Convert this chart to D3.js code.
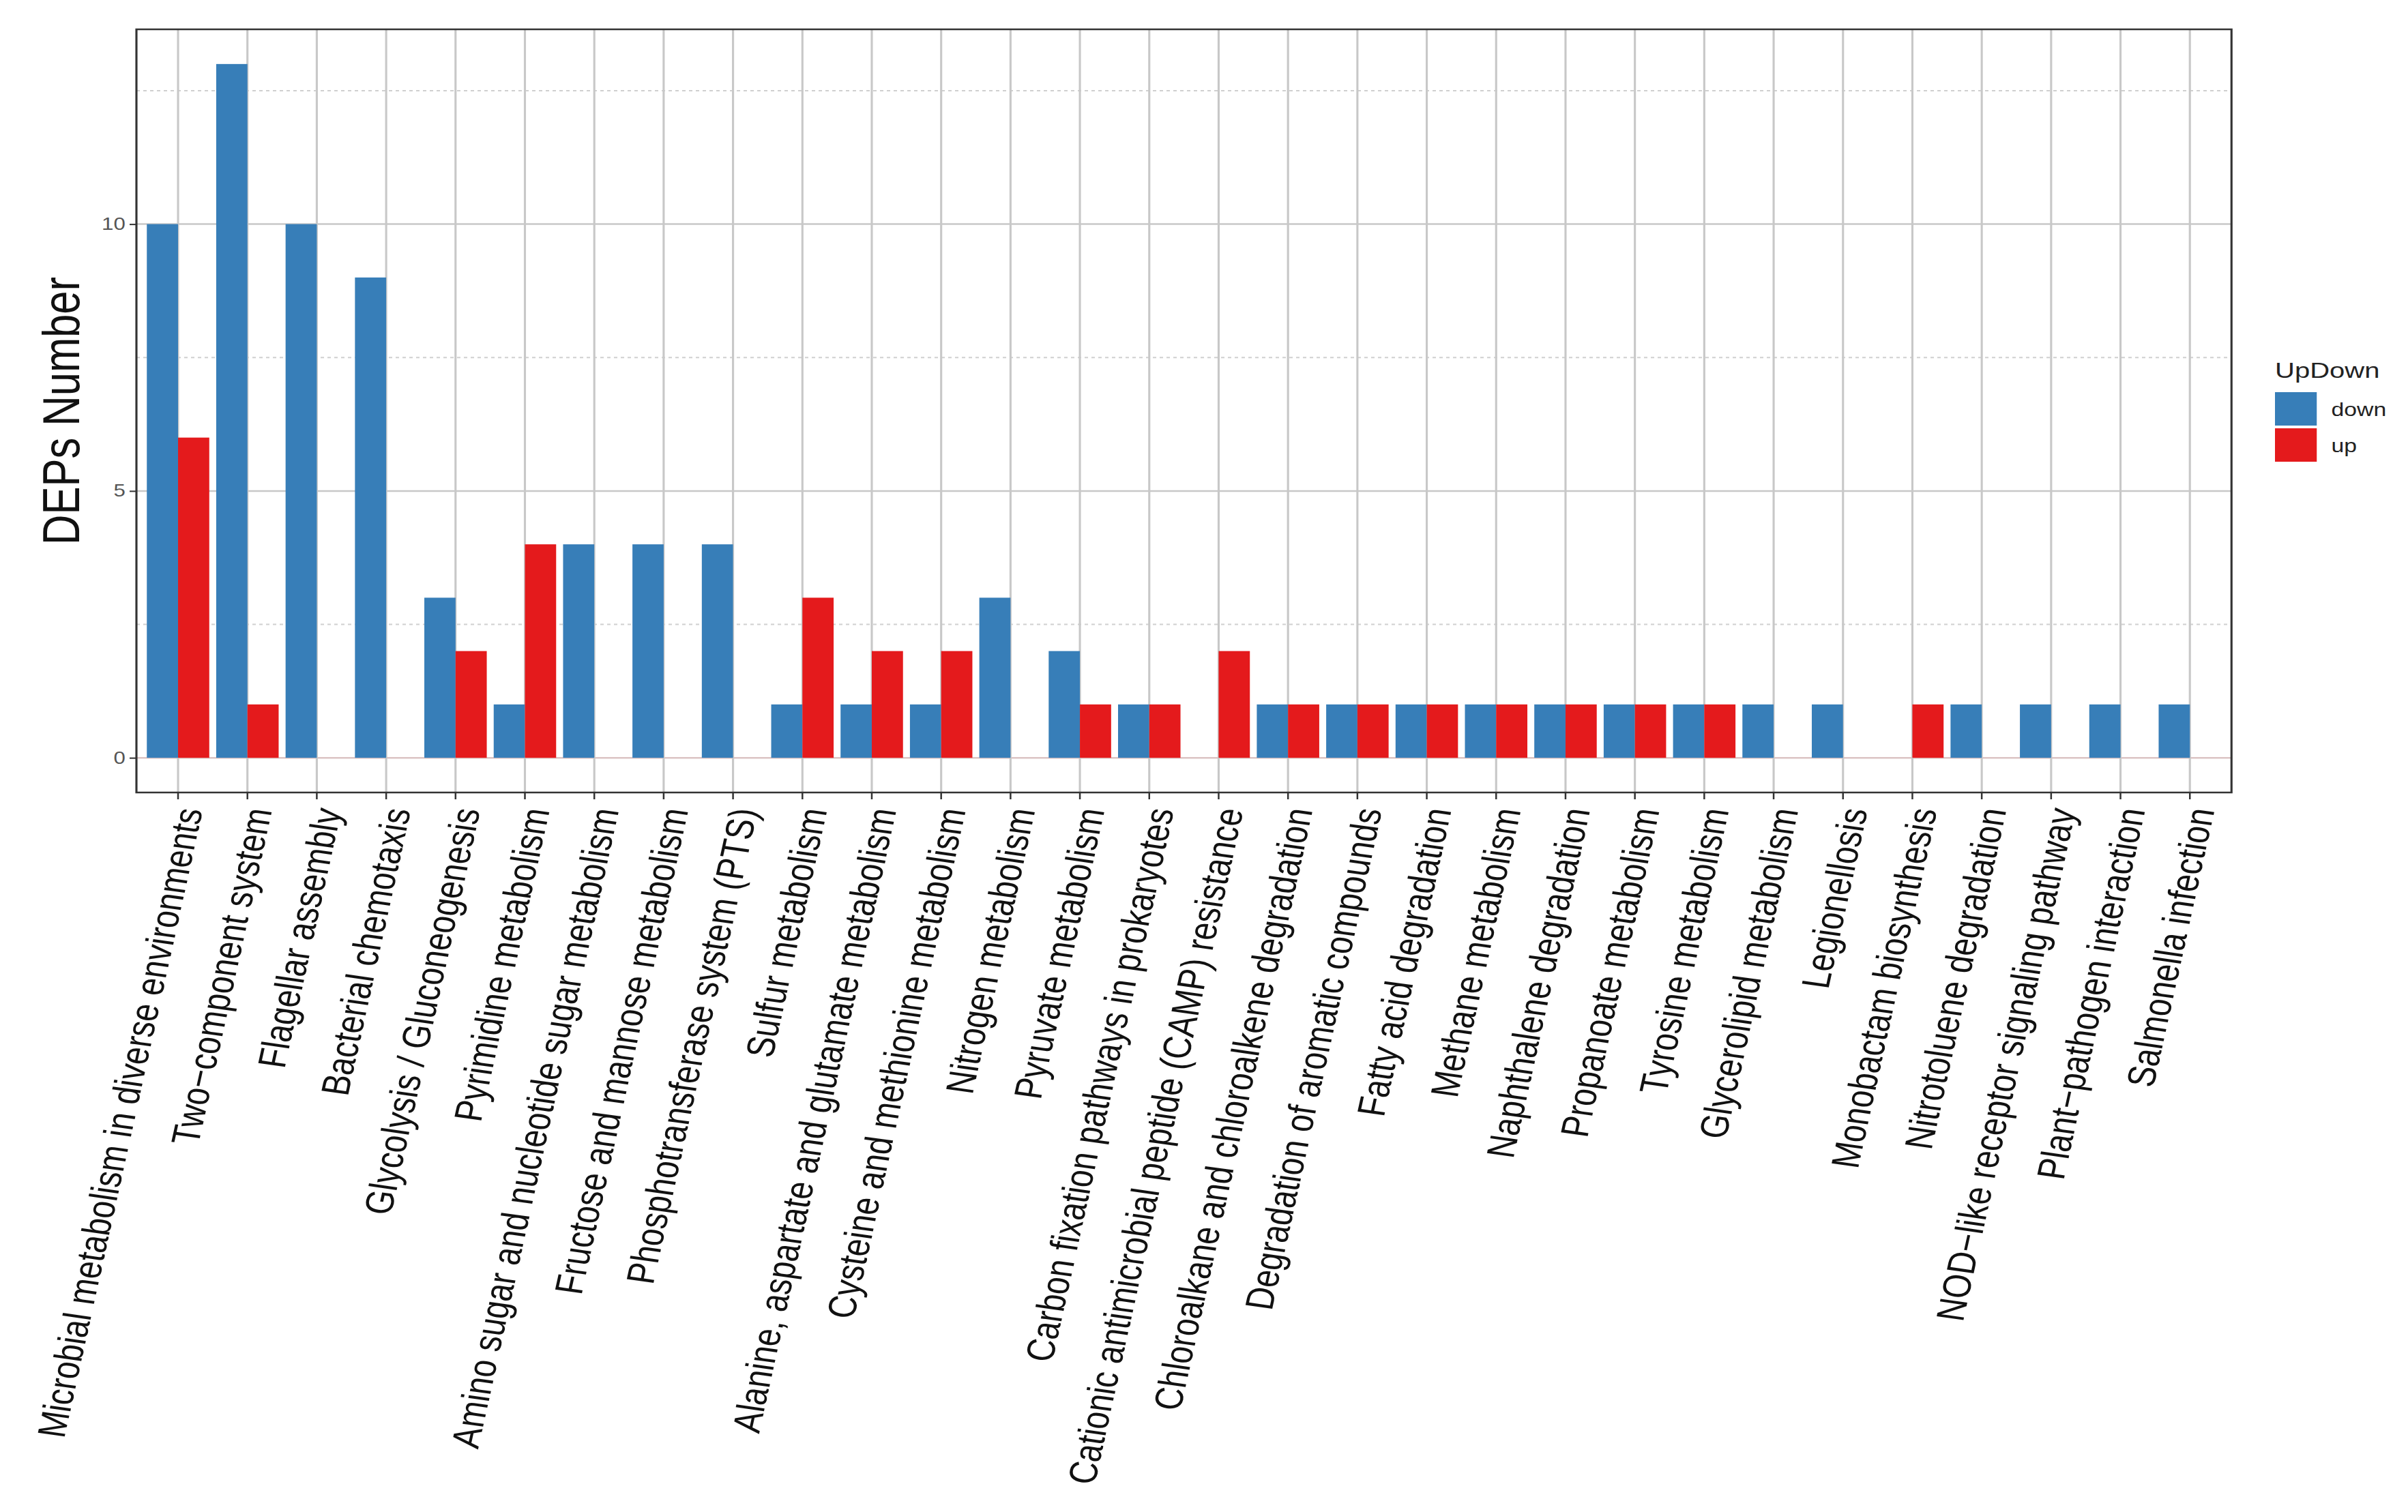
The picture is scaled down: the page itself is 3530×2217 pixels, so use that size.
<!DOCTYPE html>
<html>
<head>
<meta charset="utf-8">
<script src="https://cdn.jsdelivr.net/npm/d3@7"></script>
<style>
  body { margin: 0; background: #fff; }
  text { font-family: "Liberation Sans", Arial, sans-serif; }
</style>
</head>
<body>
<div id="chart"></div>
<script>
// pathway names, in plot order
var pathways = [
  "Microbial metabolism in diverse environments",
  "Two\u2212component system",
  "Flagellar assembly",
  "Bacterial chemotaxis",
  "Glycolysis / Gluconeogenesis",
  "Pyrimidine metabolism",
  "Amino sugar and nucleotide sugar metabolism",
  "Fructose and mannose metabolism",
  "Phosphotransferase system (PTS)",
  "Sulfur metabolism",
  "Alanine, aspartate and glutamate metabolism",
  "Cysteine and methionine metabolism",
  "Nitrogen metabolism",
  "Pyruvate metabolism",
  "Carbon fixation pathways in prokaryotes",
  "Cationic antimicrobial peptide (CAMP) resistance",
  "Chloroalkane and chloroalkene degradation",
  "Degradation of aromatic compounds",
  "Fatty acid degradation",
  "Methane metabolism",
  "Naphthalene degradation",
  "Propanoate metabolism",
  "Tyrosine metabolism",
  "Glycerolipid metabolism",
  "Legionellosis",
  "Monobactam biosynthesis",
  "Nitrotoluene degradation",
  "NOD\u2212like receptor signaling pathway",
  "Plant\u2212pathogen interaction",
  "Salmonella infection"
];
var downCounts = [10, 13, 10, 9, 3, 1, 4, 4, 4, 1, 1, 1, 3, 2, 1, 0, 1, 1, 1, 1, 1, 1, 1, 1, 1, 0, 1, 1, 1, 1];
var upCounts   = [6, 1, 0, 0, 2, 4, 0, 0, 0, 3, 2, 2, 0, 1, 1, 2, 1, 1, 1, 1, 1, 1, 1, 0, 0, 1, 0, 0, 0, 0];
var groups = ["down", "up"];
var groupColors = ["#377EB8", "#E41A1C"];
var yTicks = [0, 5, 10];
var yMinor = [2.5, 7.5, 12.5];

// the reference is stretched sideways, so draw in a narrower box and stretch it
var W = 2824, H = 2217;
var dim = { left: 160, right: 2617, top: 43, bottom: 1162 };

var svg = d3.select("#chart")
  .append("svg")
  .attr("width", 3530)
  .attr("height", 2217)
  .attr("viewBox", "0 0 " + W + " " + H)
  .attr("preserveAspectRatio", "none");

var rows = [];
for (var i = 0; i < pathways.length; i++) {
  rows.push({ name: pathways[i], down: downCounts[i], up: upCounts[i] });
}

var x = d3.scaleBand()
  .domain(pathways)
  .range([dim.left, dim.right])
  .paddingInner(0)
  .paddingOuter(0.1);
var bw = x.bandwidth();
var xSub = d3.scaleBand()
  .domain(groups)
  .range([bw * 0.05, bw * 0.95]);
var y = d3.scaleLinear()
  .domain([-0.65, 13.65])
  .range([dim.bottom, dim.top]);
var color = d3.scaleOrdinal().domain(groups).range(groupColors);

// grid
var grid = svg.append("g");
grid.selectAll(".minor")
  .data(yMinor)
  .enter()
  .append("line")
  .attr("x1", dim.left).attr("x2", dim.right)
  .attr("y1", function (d) { return y(d); })
  .attr("y2", function (d) { return y(d); })
  .attr("stroke", "#d0d0d0")
  .attr("stroke-width", 2)
  .attr("stroke-dasharray", "4,4");
grid.selectAll(".major")
  .data(yTicks)
  .enter()
  .append("line")
  .attr("x1", dim.left).attr("x2", dim.right)
  .attr("y1", function (d) { return y(d); })
  .attr("y2", function (d) { return y(d); })
  .attr("stroke", function (d) { return d == 0 ? "#dcc4c4" : "#c8c8c8"; })
  .attr("stroke-width", 2.5);
grid.selectAll(".vert")
  .data(pathways)
  .enter()
  .append("line")
  .attr("x1", function (d) { return x(d) + bw / 2; })
  .attr("x2", function (d) { return x(d) + bw / 2; })
  .attr("y1", dim.top).attr("y2", dim.bottom)
  .attr("stroke", "#c8c8c8")
  .attr("stroke-width", 2.5);

// bars
svg.append("g")
  .selectAll("g")
  .data(rows)
  .enter()
  .append("g")
  .attr("transform", function (d) { return "translate(" + x(d.name) + ",0)"; })
  .selectAll("rect")
  .data(function (d) {
    return groups.map(function (g) { return { key: g, value: d[g] }; });
  })
  .enter()
  .append("rect")
  .attr("x", function (d) { return xSub(d.key); })
  .attr("width", xSub.bandwidth())
  .attr("y", function (d) { return y(d.value); })
  .attr("height", function (d) { return y(0) - y(d.value); })
  .attr("fill", function (d) { return color(d.key); });

// panel border
svg.append("rect")
  .attr("x", dim.left).attr("y", dim.top)
  .attr("width", dim.right - dim.left)
  .attr("height", dim.bottom - dim.top)
  .attr("fill", "none")
  .attr("stroke", "#333")
  .attr("stroke-width", 2.5);

// y axis
var yAxis = svg.append("g")
  .attr("transform", "translate(" + dim.left + ",0)")
  .call(d3.axisLeft(y).tickValues(yTicks).tickSize(8).tickPadding(5));
yAxis.select(".domain").remove();
yAxis.selectAll("line").attr("stroke", "#333").attr("stroke-width", 2);
yAxis.selectAll("text")
  .style("font-size", "25px")
  .style("font-family", "Liberation Sans, Arial, sans-serif")
  .attr("fill", "#555");

// x axis
var xAxis = svg.append("g")
  .attr("transform", "translate(0," + dim.bottom + ")")
  .call(d3.axisBottom(x).tickSize(10));
xAxis.select(".domain").remove();
xAxis.selectAll("line").attr("stroke", "#333").attr("stroke-width", 2);
xAxis.selectAll("text")
  .attr("y", 0)
  .attr("dy", 0)
  .attr("text-anchor", "end")
  .attr("transform", "translate(29,26) rotate(-80)")
  .style("font-size", "46.3px")
  .style("font-family", "Liberation Sans, Arial, sans-serif")
  .attr("fill", "#111");

// y title
svg.append("text")
  .attr("text-anchor", "middle")
  .attr("transform", "translate(93," + (dim.top + dim.bottom) / 2 + ") rotate(-90)")
  .style("font-size", "61.5px")
  .attr("fill", "#111")
  .text("DEPs Number");

// legend
var legend = svg.append("g").attr("transform", "translate(2668,0)");
legend.append("text")
  .attr("x", 0).attr("y", 554)
  .style("font-size", "32px")
  .attr("fill", "#222")
  .text("UpDown");
var keys = legend.selectAll(".key")
  .data(groups)
  .enter()
  .append("g")
  .attr("transform", function (d, i) { return "translate(0," + (575 + i * 53) + ")"; });
keys.append("rect")
  .attr("width", 49)
  .attr("height", 49)
  .attr("fill", function (d) { return color(d); });
keys.append("text")
  .attr("x", 66)
  .attr("y", 35)
  .style("font-size", "27px")
  .attr("fill", "#222")
  .text(function (d) { return d; });
</script>
</body>
</html>
